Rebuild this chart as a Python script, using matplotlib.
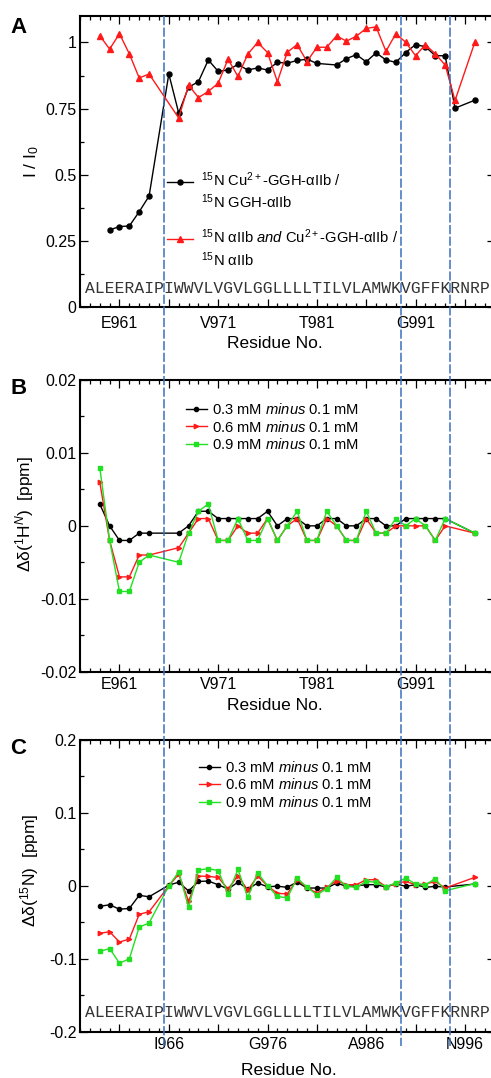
import matplotlib
matplotlib.use("Agg")
import matplotlib.pyplot as plt
import matplotlib.transforms as mtransforms
from matplotlib.lines import Line2D
from matplotlib.ticker import FixedLocator, MultipleLocator

plt.rcParams["font.family"] = "Liberation Sans"
plt.rcParams["mathtext.fontset"] = "custom"
plt.rcParams["mathtext.rm"] = "Liberation Sans"
plt.rcParams["mathtext.it"] = "Liberation Sans:italic"
plt.rcParams["axes.unicode_minus"] = False

# sequence of the alphaIIb TM peptide, first residue A958
SEQ = "ALEERAIPIWWVLVGVLGGLLLLTILVLAMWKVGFFKRNRP"
FIRST = 958
boundaries = [965.5, 989.5, 994.5]
major_ticks = [961, 966, 971, 976, 981, 986, 991, 996]
labels_ab = [961, 971, 981, 991]
labels_c = [966, 976, 986, 996]

# panel A: intensity ratios I / I0
res_a_cu = [960, 961, 962, 963, 964, 966, 967, 968, 969, 970, 971, 972, 973,
            974, 975, 976, 977, 978, 979, 980, 981, 983, 984, 985, 986, 987,
            988, 989, 990, 991, 992, 993, 994, 995, 997]
ratio_a_cu = [0.292, 0.305, 0.307, 0.361, 0.420, 0.881, 0.734, 0.831, 0.852,
              0.934, 0.891, 0.896, 0.917, 0.896, 0.904, 0.896, 0.925, 0.922,
              0.932, 0.937, 0.921, 0.915, 0.939, 0.954, 0.927, 0.961, 0.934,
              0.925, 0.962, 0.992, 0.984, 0.950, 0.950, 0.752, 0.782]
res_a_both = [959, 960, 961, 962, 963, 964, 967, 968, 969, 970, 971, 972, 973,
              974, 975, 976, 977, 978, 979, 980, 981, 982, 983, 984, 985, 986,
              987, 988, 989, 990, 991, 992, 993, 994, 995, 997]
ratio_a_both = [1.026, 0.975, 1.033, 0.957, 0.866, 0.881, 0.715, 0.839, 0.792,
                0.815, 0.846, 0.937, 0.872, 0.956, 1.000, 0.962, 0.852, 0.963,
                0.992, 0.928, 0.982, 0.982, 1.025, 1.005, 1.024, 1.053, 1.059,
                0.967, 1.033, 1.001, 0.950, 0.992, 0.957, 0.915, 0.781, 1.000]

# panel B: 1H(N) chemical shift differences
res_b = [959, 960, 961, 962, 963, 964, 967, 968, 969, 970, 971, 972, 973, 974,
         975, 976, 977, 978, 979, 980, 981, 982, 983, 984, 985, 986, 987, 988,
         989, 990, 991, 992, 993, 994, 997]
dh_03 = [0.003, 0.0, -0.002, -0.002, -0.001, -0.001, -0.001, 0.0, 0.002, 0.002,
         0.001, 0.001, 0.001, 0.001, 0.001, 0.002, 0.0, 0.001, 0.001, 0.0, 0.0,
         0.001, 0.001, 0.0, 0.0, 0.001, 0.001, 0.0, 0.0, 0.001, 0.001, 0.001,
         0.001, 0.001, -0.001]
dh_06 = [0.006, -0.002, -0.007, -0.007, -0.004, -0.004, -0.003, -0.001, 0.001,
         0.001, -0.002, -0.002, 0.0, -0.001, -0.001, 0.001, -0.002, 0.0, 0.001,
         -0.002, -0.002, 0.001, 0.0, -0.002, -0.002, 0.001, -0.001, -0.001, 0.0,
         0.0, 0.0, 0.0, -0.002, 0.0, -0.001]
dh_09 = [0.008, -0.002, -0.009, -0.009, -0.005, -0.004, -0.005, -0.001, 0.002,
         0.003, -0.002, -0.002, 0.001, -0.002, -0.002, 0.001, -0.002, 0.0, 0.002,
         -0.002, -0.002, 0.002, 0.0, -0.002, -0.002, 0.002, -0.001, -0.001,
         0.001, 0.0, 0.001, 0.0, -0.002, 0.001, -0.001]

# panel C: 15N chemical shift differences
res_c = [959, 960, 961, 962, 963, 964, 966, 967, 968, 969, 970, 971, 972, 973,
         974, 975, 976, 977, 978, 979, 980, 981, 982, 983, 984, 985, 986, 987,
         988, 989, 990, 991, 992, 993, 994, 997]
dn_03 = [-0.028, -0.026, -0.032, -0.031, -0.013, -0.015, 0.001, 0.005, -0.007,
         0.006, 0.0066, 0.0015, -0.0044, 0.005, -0.0044, 0.0038, -0.0012,
         -0.0005, -0.002, 0.0052, -0.003, -0.003, -0.003, 0.0038, -0.0007, 0.0,
         0.0016, 0.0016, -0.0016, 0.003, -0.0007, 0.0016, -0.002, -0.0007,
         -0.0016, 0.0025]
dn_06 = [-0.065, -0.063, -0.077, -0.073, -0.039, -0.0355, 0.0, 0.016, -0.021,
         0.0134, 0.013, 0.0115, -0.0044, 0.014, -0.006, 0.0134, 0.0, -0.0103,
         -0.011, 0.0084, -0.002, -0.010, -0.002, 0.007, 0.0016, 0.0016, 0.0084,
         0.0084, -0.0012, 0.003, 0.006, 0.0016, 0.0025, 0.006, -0.003, 0.0116]
dn_09 = [-0.090, -0.086, -0.106, -0.100, -0.0565, -0.051, 0.0, 0.0193, -0.0296,
         0.0217, 0.0235, 0.021, -0.0112, 0.0227, -0.0158, 0.018, 0.0, -0.0145,
         -0.0165, 0.0107, -0.002, -0.0122, -0.004, 0.0116, -0.0007, -0.002,
         0.006, 0.005, -0.001, 0.0038, 0.0107, 0.0025, 0.0016, 0.0098, -0.0067,
         0.003]

W, H = 491, 1078
RED = "#ff1a1a"
GREEN = "#22e022"
BLUE = "#3a6fbf"

fig = plt.figure(figsize=(W / 100, H / 100), dpi=100)


def add_ax(top, bottom, left=80, right=494.5):
    return fig.add_axes([left / W, 1 - bottom / H, (right - left) / W,
                         (bottom - top) / H])


def style(ax, labelled, xpad):
    ax.set_xlim(957, 999)
    ax.xaxis.set_major_locator(FixedLocator(major_ticks))
    ax.set_xticklabels([f"{SEQ[r - FIRST]}{r}" if r in labelled else ""
                        for r in major_ticks])
    ax.xaxis.set_minor_locator(MultipleLocator(1))
    ax.tick_params(which="both", direction="in", top=True, right=True,
                   width=0.9, labelsize=11.5)
    ax.tick_params(which="major", length=5.5)
    ax.tick_params(which="minor", length=3.2)
    ax.tick_params(axis="x", pad=xpad)
    ax.tick_params(axis="y", pad=2.5)
    for s in ax.spines.values():
        s.set_linewidth(1.5)
    ax.set_xlabel("Residue No.", fontsize=12.5, va="top")


# ---- A
axA = add_ax(16, 307.3)
axA.plot(res_a_cu, ratio_a_cu, "-o", color="k", lw=1.0, ms=3.6)
axA.plot(res_a_both, ratio_a_both, "-^", color=RED, lw=1.0, ms=3.8)
axA.set_ylim(0, 1.1)
axA.set_yticks([0, 0.25, 0.5, 0.75, 1])
axA.set_yticklabels(["0", "0.25", "0.5", "0.75", "1"])
axA.yaxis.set_minor_locator(MultipleLocator(0.125))
style(axA, labels_ab, 6)
axA.set_ylabel("I / I$_0$", fontsize=12.5)
axA.yaxis.set_label_coords(-0.095, 0.5)
axA.xaxis.set_label_coords(0.47, -0.097)
axA.text(FIRST - 0.5, 0.07, SEQ, family="Liberation Mono", fontsize=11.84,
         ha="left", va="center", color="#333333")

# hand-made legend for A (handle on the first line of each label)
legend_a = [
    ("k", "o", 3.6, 0.431, 0.401,
     "$^{15}$N Cu$^{2+}$-GGH-αIIb /\n$^{15}$N GGH-αIIb"),
    (RED, "^", 3.8, 0.2334, 0.2025,
     "$^{15}$N αIIb $\\mathit{and}$ Cu$^{2+}$-GGH-αIIb /\n$^{15}$N αIIb"),
]
for col, mk, ms, yh, yt, lab in legend_a:
    axA.plot([0.209, 0.2734], [yh, yh], color=col, lw=1.0,
             transform=axA.transAxes)
    axA.plot([0.2412], [yh], marker=mk, color=col, ms=ms,
             transform=axA.transAxes)
    axA.text(0.292, yt, lab, transform=axA.transAxes, fontsize=10.6,
             va="center", ha="left", linespacing=1.25)

# ---- B
axB = add_ax(380, 671.7)
axB.plot(res_b, dh_03, "-o", color="k", lw=1.0, ms=3.0,
         label="0.3 mM $\\mathit{minus}$ 0.1 mM")
axB.plot(res_b, dh_06, "->", color=RED, lw=1.0, ms=3.2,
         label="0.6 mM $\\mathit{minus}$ 0.1 mM")
axB.plot(res_b, dh_09, "-s", color=GREEN, lw=1.0, ms=3.2,
         label="0.9 mM $\\mathit{minus}$ 0.1 mM")
axB.set_ylim(-0.02, 0.02)
axB.set_yticks([-0.02, -0.01, 0, 0.01, 0.02])
axB.set_yticklabels(["-0.02", "-0.01", "0", "0.01", "0.02"])
axB.yaxis.set_minor_locator(MultipleLocator(0.005))
style(axB, labels_ab, 3.6)
axB.set_ylabel("Δδ($^{1}$H$^{N}$)  [ppm]", fontsize=12.5)
axB.yaxis.set_label_coords(-0.105, 0.54)
axB.xaxis.set_label_coords(0.47, -0.089)
axB.legend(loc="upper left", bbox_to_anchor=(0.2557, 0.925), frameon=False,
           fontsize=10.6, borderpad=0, borderaxespad=0, handlelength=1.4,
           handletextpad=0.4, labelspacing=0.18, numpoints=1)

# ---- C
axC = add_ax(740, 1031.7)
axC.plot(res_c, dn_03, "-o", color="k", lw=1.0, ms=3.0,
         label="0.3 mM $\\mathit{minus}$ 0.1 mM")
axC.plot(res_c, dn_06, "->", color=RED, lw=1.0, ms=3.2,
         label="0.6 mM $\\mathit{minus}$ 0.1 mM")
axC.plot(res_c, dn_09, "-s", color=GREEN, lw=1.0, ms=3.2,
         label="0.9 mM $\\mathit{minus}$ 0.1 mM")
axC.set_ylim(-0.2, 0.2)
axC.set_yticks([-0.2, -0.1, 0, 0.1, 0.2])
axC.set_yticklabels(["-0.2", "-0.1", "0", "0.1", "0.2"])
axC.yaxis.set_minor_locator(MultipleLocator(0.05))
style(axC, labels_c, 3.6)
axC.set_ylabel("Δδ($^{15}$N)  [ppm]", fontsize=12.5)
axC.yaxis.set_label_coords(-0.095, 0.555)
axC.xaxis.set_label_coords(0.5035, -0.106)
axC.text(FIRST - 0.5, -0.174, SEQ, family="Liberation Mono", fontsize=11.84,
         ha="left", va="center", color="#333333")
axC.legend(loc="upper left", bbox_to_anchor=(0.287, 0.932), frameon=False,
           fontsize=10.6, borderpad=0, borderaxespad=0, handlelength=1.4,
           handletextpad=0.4, labelspacing=0.18, numpoints=1)

# domain boundaries run through all three panels
trans = mtransforms.blended_transform_factory(axA.transData, fig.transFigure)
for b in boundaries:
    fig.add_artist(Line2D([b, b], [1 - 16 / H, 1 - 1046 / H], transform=trans,
                          color=BLUE, lw=1.1, dashes=(6, 1.6)))

for letter, top in [("A", 17), ("B", 378), ("C", 738)]:
    fig.text(10 / W, 1 - top / H, letter, fontsize=16, fontweight="bold",
             va="top", ha="left")

fig.savefig("out.png", dpi=100)
